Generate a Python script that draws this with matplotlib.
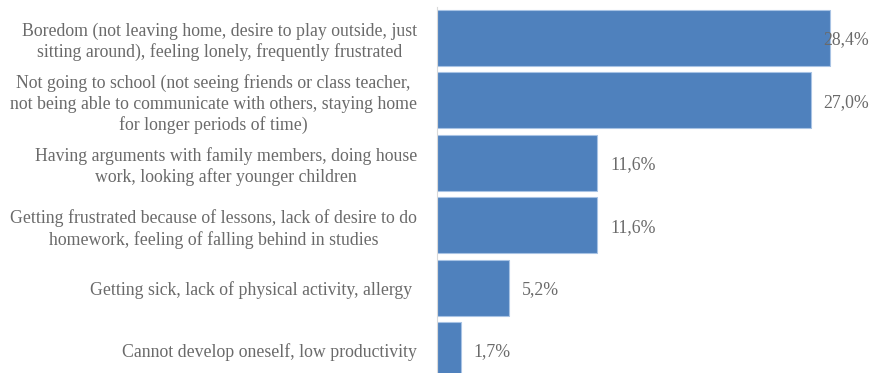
import matplotlib.pyplot as plt

# survey answers, top to bottom
labels = [
    "Boredom (not leaving home, desire to play outside, just\nsitting around), feeling lonely, frequently frustrated",
    "Not going to school (not seeing friends or class teacher,\nnot being able to communicate with others, staying home\nfor longer periods of time)",
    "Having arguments with family members, doing house\nwork, looking after younger children",
    "Getting frustrated because of lessons, lack of desire to do\nhomework, feeling of falling behind in studies",
    "Getting sick, lack of physical activity, allergy ",
    "Cannot develop oneself, low productivity",
]
values = [28.4, 27.0, 11.6, 11.6, 5.2, 1.7]
value_labels = ["28,4%", "27,0%", "11,6%", "11,6%", "5,2%", "1,7%"]

plt.rcParams['font.family'] = ['Liberation Serif', 'DejaVu Serif']
text_color = '#6a6a6a'
fs = 12.8

fig = plt.figure(figsize=(8.7, 3.73), dpi=100)
# axes runs a little past the bottom edge, so the last bar is clipped
ax = fig.add_axes([437 / 870, -8.2 / 373, 433 / 870, 374.4 / 373])

pos = list(range(len(values)))
ax.barh(pos, values, height=0.9, color='#4f81bd', edgecolor='#a8c3e4', linewidth=0.8)
ax.set_ylim(len(values) - 0.5, -0.5)
ax.set_xlim(0, 31.3)

ax.set_yticks(pos)
ax.set_yticklabels(labels, fontsize=fs, color=text_color, ma='center', linespacing=1.26)
ax.tick_params(axis='y', length=0, pad=14.5)
ax.set_xticks([])

for side in ['top', 'right', 'bottom']:
    ax.spines[side].set_visible(False)
ax.spines['left'].set_color('#d9d9d9')
ax.spines['left'].set_linewidth(0.8)

fig.canvas.draw()
renderer = fig.canvas.get_renderer()
for y, v, t in zip(pos, values, value_labels):
    txt = ax.annotate(t, (v, y), xytext=(9, -1.5), textcoords='offset points',
                      ha='left', va='center', fontsize=fs, color=text_color)
    bb = txt.get_window_extent(renderer)
    if bb.x1 > fig.bbox.x1:
        # no room past the bar end: pull the label back inside the figure
        txt.remove()
        ax.annotate(t, (1.0, y), xycoords=('figure fraction', 'data'),
                    xytext=(-1, -1.5), textcoords='offset points',
                    ha='right', va='center', fontsize=fs, color=text_color)

fig.savefig('out.png', dpi=100)
